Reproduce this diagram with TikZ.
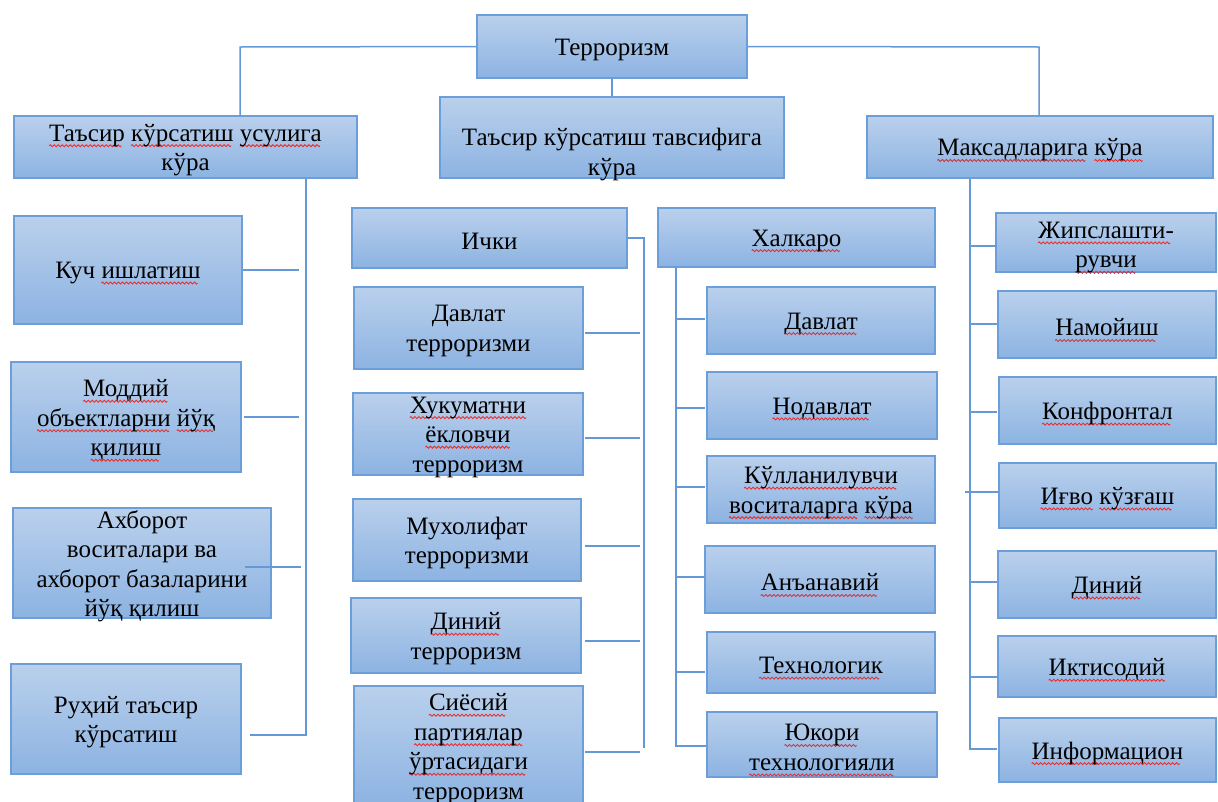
\documentclass[tikz,border=0pt]{standalone}
\usepackage{fontspec}
\setmainfont{Liberation Serif}
\usetikzlibrary{calc}
\definecolor{boxtop}{RGB}{186,208,236}
\definecolor{boxbot}{RGB}{140,179,226}
\definecolor{boxline}{RGB}{108,158,218}
\definecolor{conn}{RGB}{100,152,214}
\definecolor{squig}{RGB}{228,50,50}
\newbox\rwbox
\newcount\rwc
\newcommand\rwave[1]{%
  \setbox\rwbox\hbox{#1}%
  \edef\rww{\the\wd\rwbox}%
  \leavevmode\rlap{\smash{\begin{pgfpicture}%
    \pgfsetbaseline{0pt}%
    \pgfpathrectangle{\pgfpoint{0pt}{-7pt}}{\pgfpoint{\rww}{7pt}}%
    \pgfusepath{use as bounding box}%
    \pgfsetcolor{squig}\pgfsetlinewidth{0.9pt}%
    \pgfmathtruncatemacro\rwn{\rww/4}%
    \pgfpathmoveto{\pgfpoint{0pt}{-4.6pt}}%
    \rwc=0
    \loop\ifnum\rwc<\rwn
      \pgfpathsine{\pgfpoint{1pt}{1pt}}\pgfpathcosine{\pgfpoint{1pt}{-1pt}}%
      \pgfpathsine{\pgfpoint{1pt}{-1pt}}\pgfpathcosine{\pgfpoint{1pt}{1pt}}%
      \advance\rwc by 1
    \repeat
    \pgfusepath{stroke}%
  \end{pgfpicture}}}\box\rwbox}
\tikzset{
  ubox/.style={draw=boxline, line width=1.8pt, top color=boxtop, bottom color=boxbot,
    inner sep=0pt},
  utxt/.style={inner sep=0pt, align=center, text=black, font=\fontsize{25}{29.5}\selectfont},
  cn/.style={draw=conn, line width=1.5pt}
}
% box: name, x1, y1, x2, y2, text (text shifted slightly down like the reference)
\newcommand{\bx}[7][3]{\node[ubox, minimum width={(#5-#3)*1pt}, minimum height={(#6-#4)*1pt}] (#2) at ({(#3+#5)/2},{(#4+#6)/2}) {};
  \node[utxt] (#2t) at ([yshift=-#1pt]#2.center) {#7};}
\begin{document}
\begin{tikzpicture}[x=1pt,y=-1pt]
\useasboundingbox (0,0) rectangle (1218,801);
\clip (0,0) rectangle (1218,801);
\fill[white] (0,0) rectangle (1218,801);
% top level
\bx{ter}{477}{15}{747}{78}{Терроризм}
\bx{usul}{14}{116}{357}{178}{\rwave{Таъсир} \rwave{кўрсатиш} \rwave{усулига}\\кўра}
\bx[17]{tav}{440}{97}{784}{178}{Таъсир кўрсатиш тавсифига\\кўра}
\bx{mak}{867}{116}{1213}{178}{\rwave{Максадларига} \rwave{кўра}}
% left column
\bx{kuch}{14}{216}{242}{324}{Куч \rwave{ишлатиш}}
\bx{modd}{11}{362}{241}{472}{\rwave{Моддий}\\\rwave{объектларни} \rwave{йўқ}\\\rwave{қилиш}}
\bx{axb}{13}{508}{271}{618}{Ахборот\\воситалари ва\\ахборот базаларини\\йўқ қилиш}
\bx{ruh}{11}{664}{241}{774}{Руҳий таъсир\\кўрсатиш}
% ichki column
\bx{ichki}{352}{208}{627}{268}{Ички}
\bx{davt}{354}{287}{583}{369}{Давлат\\терроризми}
\bx{huk}{353}{393}{583}{475}{\rwave{Хукуматни}\\\rwave{ёкловчи}\\терроризм}
\bx{muh}{353}{499}{581}{581}{Мухолифат\\терроризми}
\bx{dint}{351}{598}{581}{673}{\rwave{Диний}\\терроризм}
\bx{siyo}{354}{686}{583}{806}{\rwave{Сиёсий}\\\rwave{партиялар}\\\rwave{ўртасидаги}\\терроризм}
% xalqaro column
\bx{xal}{658}{208}{935}{267}{\rwave{Халкаро}}
\bx{dav}{707}{287}{935}{354}{\rwave{Давлат}}
\bx{nod}{707}{372}{937}{439}{\rwave{Нодавлат}}
\bx{qul}{707}{456}{935}{523}{\rwave{Кўлланилувчи}\\\rwave{воситаларга} \rwave{кўра}}
\bx{ana}{705}{546}{935}{613}{\rwave{Анъанавий}}
\bx{tex}{707}{632}{935}{693}{\rwave{Технологик}}
\bx{yuq}{707}{712}{937}{777}{\rwave{Юкори}\\\rwave{технологияли}}
% maqsad column
\bx[5]{jip}{996}{213}{1216}{272}{\rwave{Жипслашти-}\\\rwave{рувчи}}
\bx{nam}{998}{291}{1216}{358}{\rwave{Намойиш}}
\bx{kon}{999}{377}{1216}{444}{\rwave{Конфронтал}}
\bx{igv}{999}{463}{1216}{528}{\rwave{Иғво} \rwave{кўзғаш}}
\bx{din}{998}{551}{1216}{618}{\rwave{Диний}}
\bx{ikt}{998}{636}{1216}{697}{\rwave{Иктисодий}}
\bx{inf}{999}{718}{1216}{782}{\rwave{Информацион}}
% connectors from root
\coordinate (jl) at (240,47);
\coordinate (jr) at (1039,47);
\draw[cn] (ter.west) -- (jl) -- (jl |- usul.north);
\draw[cn] (ter.east) -- (jr) -- (jr |- mak.north);
\draw[cn] (ter.south) -- (tav.north);
% left column connectors
\coordinate (lv) at (306,179);
\coordinate (lb) at (306,735);
\coordinate (le) at (250,735);
\draw[cn] (lv) -- (lb) -- (le);
\draw[cn] (243,270) -- (299,270);
\draw[cn] (244,417) -- (299,417);
\draw[cn] (245,567) -- (301,567);
% ichki connectors
\coordinate (iv) at (644,238);
\coordinate (ib) at (644,748);
\draw[cn] (ichki.east) -- (iv) -- (ib);
\foreach \yy in {333,438,546,641,752} {\draw[cn] (585,\yy) -- (640,\yy);}
% xalqaro connectors
\coordinate (xv) at (676,267);
\coordinate (xb) at (676,746);
\coordinate (xe) at (706,746);
\draw[cn] (xv) -- (xb) -- (xe);
\foreach \yy in {319,408,487,577,672} {\draw[cn] (677,\yy) -- (705,\yy);}
% maqsad connectors
\coordinate (mv) at (970,179);
\coordinate (mb) at (970,749);
\coordinate (me) at (997,749);
\draw[cn] (mv) -- (mb) -- (me);
\foreach \yy in {246,324,412,582,677} {\draw[cn] (970,\yy) -- (997,\yy);}
\draw[cn] (965,492) -- (998,492);
\end{tikzpicture}
\end{document}
